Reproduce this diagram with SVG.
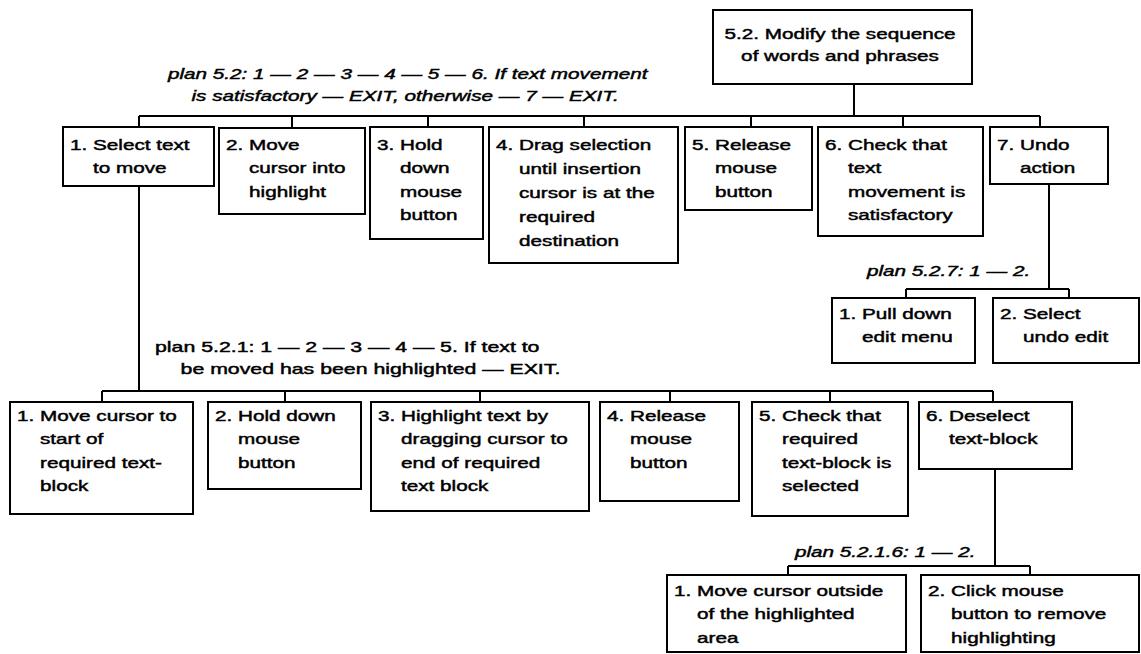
<svg xmlns="http://www.w3.org/2000/svg" width="1141" height="654" viewBox="0 0 1141 654">
<style>
.b{fill:#fff;stroke:#000;stroke-width:2}
.c{fill:none;stroke:#000;stroke-width:2}
text{font-family:"Liberation Sans",Arial,sans-serif;font-size:15px;fill:#000;stroke:#000;stroke-width:0.45}
.i{font-style:italic}
</style>
<rect width="1141" height="654" fill="#fff"/>
<g id="connectors">
<path class="c" d="M854 84V116 M139 116H1040 M139 116V127 M292 116V127 M428 116V127 M584 116V127 M751 116V127 M903 116V127 M1040 116V127"/>
<path class="c" d="M139 186V391 M102 391H993 M102 391V402 M285 391V402 M480 391V402 M670 391V402 M830 391V402 M993 391V402"/>
<path class="c" d="M1049 184V289 M906 289H1069 M906 289V298 M1069 289V298"/>
<path class="c" d="M995 469V566 M788 566H1030 M788 566V575 M1030 566V575"/>
</g>
<g id="plans">
<text class="i" transform="translate(168,79) scale(1.38,1)"><tspan x="0" y="0">plan 5.2: 1 — 2 — 3 — 4 — 5 — 6. If text movement</tspan><tspan x="17" y="22">is satisfactory — EXIT, otherwise — 7 — EXIT.</tspan></text>
<text transform="translate(155,352) scale(1.42,1)"><tspan x="0" y="0">plan 5.2.1: 1 — 2 — 3 — 4 — 5. If text to</tspan><tspan x="18" y="22">be moved has been highlighted — EXIT.</tspan></text>
<text class="i" transform="translate(867,276) scale(1.38,1)">plan 5.2.7: 1 — 2.</text>
<text class="i" transform="translate(795,557) scale(1.38,1)">plan 5.2.1.6: 1 — 2.</text>
</g>
<g id="n0">
<rect class="b" x="713" y="10" width="259" height="74"/>
<text transform="translate(840,39) scale(1.38,1)" text-anchor="middle"><tspan x="0" y="0">5.2.  Modify the sequence</tspan><tspan x="0" y="22">of words and phrases</tspan></text>
</g>
<g id="n1">
<rect class="b" x="63" y="127" width="151" height="59"/>
<text transform="translate(70,150) scale(1.38,1)"><tspan x="0" y="0">1. Select text</tspan><tspan x="16.7" y="23.5">to move</tspan></text>
</g>
<g id="n2">
<rect class="b" x="219" y="128" width="146" height="86"/>
<text transform="translate(226,150) scale(1.38,1)"><tspan x="0" y="0">2. Move</tspan><tspan x="16.7" y="23.5">cursor into</tspan><tspan x="16.7" y="47">highlight</tspan></text>
</g>
<g id="n3">
<rect class="b" x="370" y="127" width="113" height="112"/>
<text transform="translate(377,150) scale(1.38,1)"><tspan x="0" y="0">3. Hold</tspan><tspan x="16.7" y="23.5">down</tspan><tspan x="16.7" y="47">mouse</tspan><tspan x="16.7" y="70.5">button</tspan></text>
</g>
<g id="n4">
<rect class="b" x="489" y="127" width="189" height="136"/>
<text transform="translate(496,150) scale(1.38,1)"><tspan x="0" y="0">4. Drag selection</tspan><tspan x="16.7" y="24">until insertion</tspan><tspan x="16.7" y="48">cursor is at the</tspan><tspan x="16.7" y="72">required</tspan><tspan x="16.7" y="96">destination</tspan></text>
</g>
<g id="n5">
<rect class="b" x="685" y="127" width="127" height="83"/>
<text transform="translate(692,150) scale(1.38,1)"><tspan x="0" y="0">5. Release</tspan><tspan x="16.7" y="23.5">mouse</tspan><tspan x="16.7" y="47">button</tspan></text>
</g>
<g id="n6">
<rect class="b" x="818" y="127" width="165" height="109"/>
<text transform="translate(825,150) scale(1.38,1)"><tspan x="0" y="0">6. Check that</tspan><tspan x="16.7" y="23.5">text</tspan><tspan x="16.7" y="47">movement is</tspan><tspan x="16.7" y="70.5">satisfactory</tspan></text>
</g>
<g id="n7">
<rect class="b" x="990" y="127" width="118" height="57"/>
<text transform="translate(997,150) scale(1.38,1)"><tspan x="0" y="0">7. Undo</tspan><tspan x="16.7" y="23.5">action</tspan></text>
</g>
<g id="n7-1">
<rect class="b" x="832" y="298" width="143" height="65"/>
<text transform="translate(839,319) scale(1.38,1)"><tspan x="0" y="0">1. Pull down</tspan><tspan x="16.7" y="23.5">edit menu</tspan></text>
</g>
<g id="n7-2">
<rect class="b" x="993" y="298" width="146" height="65"/>
<text transform="translate(1000,319) scale(1.38,1)"><tspan x="0" y="0">2. Select</tspan><tspan x="16.7" y="23.5">undo edit</tspan></text>
</g>
<g id="n1-1">
<rect class="b" x="10" y="402" width="183" height="112"/>
<text transform="translate(17,421) scale(1.38,1)"><tspan x="0" y="0">1. Move cursor to</tspan><tspan x="16.7" y="23.5">start of</tspan><tspan x="16.7" y="47">required text-</tspan><tspan x="16.7" y="70.5">block</tspan></text>
</g>
<g id="n1-2">
<rect class="b" x="208" y="402" width="153" height="87"/>
<text transform="translate(215,421) scale(1.38,1)"><tspan x="0" y="0">2. Hold down</tspan><tspan x="16.7" y="23.5">mouse</tspan><tspan x="16.7" y="47">button</tspan></text>
</g>
<g id="n1-3">
<rect class="b" x="371" y="402" width="218" height="109"/>
<text transform="translate(378,421) scale(1.38,1)"><tspan x="0" y="0">3. Highlight text by</tspan><tspan x="16.7" y="23.5">dragging cursor to</tspan><tspan x="16.7" y="47">end of required</tspan><tspan x="16.7" y="70.5">text block</tspan></text>
</g>
<g id="n1-4">
<rect class="b" x="600" y="402" width="139" height="99"/>
<text transform="translate(607,421) scale(1.38,1)"><tspan x="0" y="0">4. Release</tspan><tspan x="16.7" y="23.5">mouse</tspan><tspan x="16.7" y="47">button</tspan></text>
</g>
<g id="n1-5">
<rect class="b" x="752" y="402" width="156" height="114"/>
<text transform="translate(759,421) scale(1.38,1)"><tspan x="0" y="0">5. Check that</tspan><tspan x="16.7" y="23.5">required</tspan><tspan x="16.7" y="47">text-block is</tspan><tspan x="16.7" y="70.5">selected</tspan></text>
</g>
<g id="n1-6">
<rect class="b" x="919" y="402" width="153" height="67"/>
<text transform="translate(926,421) scale(1.38,1)"><tspan x="0" y="0">6. Deselect</tspan><tspan x="16.7" y="23.5">text-block</tspan></text>
</g>
<g id="n6-1">
<rect class="b" x="667" y="575" width="239" height="77"/>
<text transform="translate(674,596) scale(1.38,1)"><tspan x="0" y="0">1. Move cursor outside</tspan><tspan x="16.7" y="23.5">of the highlighted</tspan><tspan x="16.7" y="47">area</tspan></text>
</g>
<g id="n6-2">
<rect class="b" x="921" y="575" width="218" height="77"/>
<text transform="translate(928,596) scale(1.38,1)"><tspan x="0" y="0">2. Click mouse</tspan><tspan x="16.7" y="23.5">button to remove</tspan><tspan x="16.7" y="47">highlighting</tspan></text>
</g>
</svg>
